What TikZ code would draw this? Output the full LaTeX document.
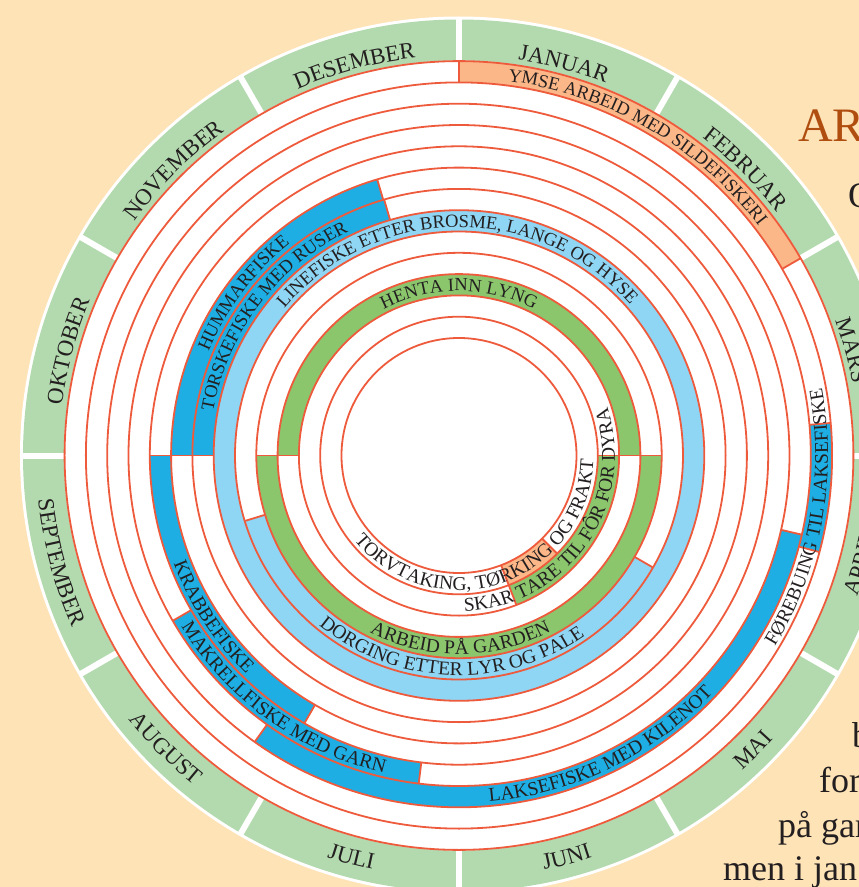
\documentclass[tikz,border=0pt]{standalone}
\usepackage{fontspec}
\setmainfont{Liberation Serif}
\usetikzlibrary{decorations.text}
\definecolor{paper}{RGB}{254,227,183}
\definecolor{monthgreen}{RGB}{179,218,174}
\definecolor{ringred}{RGB}{238,90,60}
\definecolor{bandorange}{RGB}{251,183,135}
\definecolor{bandblue}{RGB}{30,174,227}
\definecolor{bandlight}{RGB}{143,213,244}
\definecolor{bandgreen}{RGB}{139,198,109}
\definecolor{headbrown}{RGB}{176,78,16}
\definecolor{ink}{RGB}{35,31,32}
\tikzset{
  ringline/.style = {draw=ringred, line width=1.8pt},
  monthcut/.style = {draw=white, line width=6pt},
  bodytext/.style = {inner sep=0pt, anchor=base west, text=ink, font=\fontsize{36}{40}\selectfont}
}
\newcommand{\monthfont}{\fontsize{23}{25}\selectfont}
\newcommand{\upfont}{\fontsize{18.5}{20}\selectfont}
\newcommand{\downfont}{\fontsize{19.5}{21}\selectfont}
\newcommand{\ringr}[1]{117.5+21.3*(#1)}
\newcommand{\ringband}[4]{%
  \fill[#4] (#2:{\ringr{#1}}) arc[start angle=#2, end angle=#3, radius={\ringr{#1}}]
    -- (#3:{\ringr{#1+1}}) arc[start angle=#3, end angle=#2, radius={\ringr{#1+1}}] -- cycle;
  \draw[ringline] (#2:{\ringr{#1}}) -- (#2:{\ringr{#1+1}});
  \draw[ringline] (#3:{\ringr{#1}}) -- (#3:{\ringr{#1+1}});
}
\newcommand{\toptext}[4]{%
  \path[decorate, decoration={text along path, text align=center, text color=ink, text={|#3|#4}}]
    ({#1+80}:#2) arc[start angle={#1+80}, end angle={#1-80}, radius=#2];
}
\newcommand{\lowtext}[4]{%
  \path[decorate, decoration={text along path, text align=center, text color=ink, text={|#3|#4}}]
    ({#1-80}:#2) arc[start angle={#1-80}, end angle={#1+80}, radius=#2];
}

\begin{document}
\begin{tikzpicture}[x=1pt,y=1pt]
    \useasboundingbox (-459,-431.5) rectangle (400,455.5);
    \clip (-459,-431.5) rectangle (400,455.5);
    \fill[paper] (-459,-431.5) rectangle (400,455.5);
    \fill[white] (0,0) circle (439);
    \fill[monthgreen] (0,0) circle (436);
    \foreach \a in {0,30,...,330}
        \draw[monthcut] (\a:390) -- (\a:438);
    \fill[white] (0,0) circle (395);
    % activity bands
    \ringband{12}{90}{30}{bandorange}
    \ringband{11}{5}{-15}{bandblue}
    \ringband{10}{-13}{-125.5}{bandblue}
    \ringband{9}{-97}{-150}{bandblue}
    \ringband{8}{-120}{-180}{bandblue}
    \ringband{7}{106.5}{180}{bandblue}
    \ringband{6}{106.3}{180}{bandblue}
    \fill[bandlight, even odd rule] (0,0) circle ({\ringr{5}}) circle ({\ringr{6}});
    \ringband{4}{-30}{-163}{bandlight}
    \ringband{3}{0}{-180}{bandgreen}
    \ringband{2}{0}{180}{bandgreen}
    \ringband{1}{0}{-69}{bandgreen}
    \ringband{0}{-45}{-69}{bandorange}
    \foreach \k in {0,...,13}
        \draw[ringline] (0,0) circle ({\ringr{\k}});
    % months
    \toptext{75}{400}{\monthfont}{JANUAR}
    \toptext{45}{400}{\monthfont}{FEBRUAR}
    \toptext{15}{400}{\monthfont}{MARS}
    \lowtext{-15}{423}{\monthfont}{APRIL}
    \lowtext{-45}{423}{\monthfont}{MAI}
    \lowtext{-75}{423}{\monthfont}{JUNI}
    \lowtext{-105}{423}{\monthfont}{JULI}
    \lowtext{-135}{423}{\monthfont}{AUGUST}
    \lowtext{-165}{423}{\monthfont}{SEPTEMBER}
    \toptext{165}{400}{\monthfont}{OKTOBER}
    \toptext{135}{400}{\monthfont}{NOVEMBER}
    \toptext{105}{400}{\monthfont}{DESEMBER}
    % activities
    \toptext{60}{377.5}{\upfont}{YMSE ARBEID MED SILDEFISKERI}
    \lowtext{-10.3}{369}{\downfont}{FØREBUING TIL LAKSEFISKE}
    \lowtext{-64}{347.6}{\downfont}{LAKSEFISKE MED KILENOT}
    \lowtext{-125.8}{326.3}{\downfont}{MAKRELLFISKE MED GARN}
    \lowtext{-146.7}{305}{\downfont}{KRABBEFISKE}
    \toptext{143}{271}{\upfont}{HUMMARFISKE}
    \toptext{143}{249.8}{\upfont}{TORSKEFISKE MED RUSER}
    \toptext{90.6}{228.4}{\upfont}{LINEFISKE ETTER BROSME, LANGE OG HYSE}
    \lowtext{-92.3}{219.8}{\downfont}{DORGING ETTER LYR OG PALE}
    \lowtext{-89.5}{198.5}{\downfont}{ARBEID PÅ GARDEN}
    \toptext{90}{164.5}{\upfont}{HENTA INN LYNG}
    \lowtext{-35}{155.9}{\downfont}{SKAR TARE TIL FÔR FOR DYRA}
    \lowtext{-71.5}{134.6}{\downfont}{TORVTAKING, TØRKING OG FRAKT}
    % page text
    \node[bodytext, text=headbrown, font=\fontsize{48}{50}\selectfont] (heading) at (339,313.5) {AR};
    \node[bodytext] (lineO) at (389,247.5) {O};
    \node[bodytext] (lineb) at (393,-291.5) {b};
    \node[bodytext] (linefor) at (360,-336.5) {for};
    \node[bodytext] (linegar) at (319,-381.5) {på gar};
    \node[bodytext] (linejan) at (264,-424.5) {men i jan};
\end{tikzpicture}
\end{document}
